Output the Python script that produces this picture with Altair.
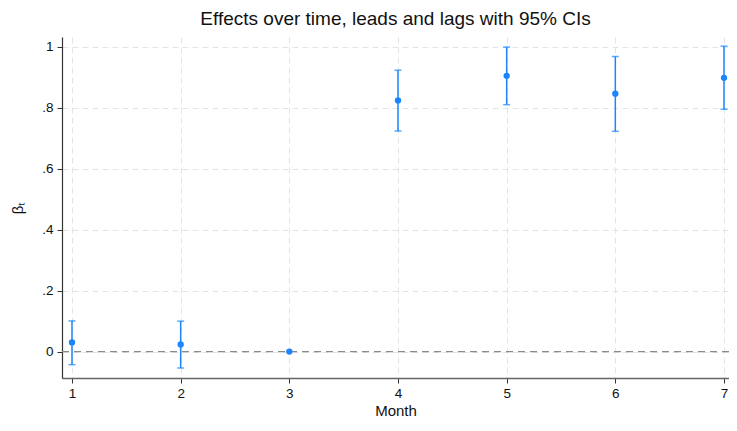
import altair as alt
import pandas as pd

months = [1, 2, 3, 4, 5, 6, 7]
beta = [0.030, 0.0235, 0.0, 0.824, 0.9045, 0.846, 0.898]
ci_lo = [-0.043, -0.054, None, 0.7235, 0.810, 0.7225, 0.795]
ci_hi = [0.1006, 0.0997, None, 0.923, 0.999, 0.968, 1.002]
y_ticks = [0, 0.2, 0.4, 0.6, 0.8, 1.0]

df = pd.DataFrame({"month": months, "beta": beta})
err = pd.DataFrame(
    [(m, lo, hi) for m, lo, hi in zip(months, ci_lo, ci_hi) if lo is not None],
    columns=["month", "lo", "hi"],
)
zero = pd.DataFrame({"z": [0.0]})

FONT = "Liberation Sans"
BLUE = "#1a85ff"

W, H = 667, 341

xscale = alt.Scale(domain=[0.908, 7.046], nice=False, zero=False)
yscale = alt.Scale(domain=[-0.0868, 1.032], nice=False, zero=False)

xaxis = alt.Axis(
    values=months, format="d", title="Month", labelFlush=False,
    grid=True, gridColor="#e4e4e4", gridDash=[6, 4], gridWidth=1,
    domainColor="#666666", domainWidth=1.5, tickColor="#333333", tickSize=5,
    labelFontSize=13.5, labelPadding=3, labelColor="#111111", labelFont=FONT,
    titleFontSize=15, titleFontWeight="normal", titleFont=FONT, titleColor="#111111",
    titleBaseline="alphabetic", titleY=37,
)
yaxis = alt.Axis(
    values=y_ticks, title="βₜ",
    labelExpr="datum.value == 0 ? '0' : (datum.value == 1 ? '1' : replace(format(datum.value, '.1f'), '0.', '.'))",
    grid=True, gridColor="#e4e4e4", gridDash=[6, 4], gridWidth=1,
    domainColor="#333333", domainWidth=1.2, tickColor="#333333", tickSize=5,
    labelFontSize=13.5, labelPadding=4, labelColor="#111111", labelFont=FONT,
    titleFontSize=15, titleFontWeight="normal", titleFont=FONT, titleColor="#111111",
    titleBaseline="alphabetic", titleX=-40, titleY=H / 2, titleAlign="center", titleAngle=270,
)

X = alt.X("month:Q", scale=xscale, axis=xaxis)

zero_line = alt.Chart(zero).mark_rule(color="#8a8a8a", strokeDash=[7, 5], strokeWidth=1.3).encode(
    y=alt.Y("z:Q", scale=yscale, axis=yaxis)
)
bars = alt.Chart(err).mark_rule(color=BLUE, strokeWidth=1.5).encode(
    x=X,
    y=alt.Y("lo:Q", scale=yscale, axis=yaxis),
    y2="hi:Q",
)
cap_lo = alt.Chart(err).mark_tick(color=BLUE, orient="horizontal", size=7, thickness=1.5).encode(
    x=X,
    y=alt.Y("lo:Q", scale=yscale, axis=yaxis),
)
cap_hi = alt.Chart(err).mark_tick(color=BLUE, orient="horizontal", size=7, thickness=1.5).encode(
    x=X,
    y=alt.Y("hi:Q", scale=yscale, axis=yaxis),
)
points = alt.Chart(df).mark_circle(color=BLUE, size=40, opacity=1).encode(
    x=X,
    y=alt.Y("beta:Q", scale=yscale, axis=yaxis),
)

chart = (
    alt.layer(zero_line, bars, cap_lo, cap_hi, points)
    .properties(
        width=W,
        height=H,
        autosize=alt.AutoSizeParams(type="none"),
        padding={"left": 54, "top": 29, "right": 0, "bottom": 40},
        title=alt.TitleParams(
            "Effects over time, leads and lags with 95% CIs",
            fontSize=19, font=FONT, fontWeight="normal", color="#111111",
            anchor="middle", baseline="alphabetic", offset=13, dy=20,
        ),
    )
    .configure_view(stroke=None)
)

chart.save("out.html", embed_options={"renderer": "svg", "actions": False})
